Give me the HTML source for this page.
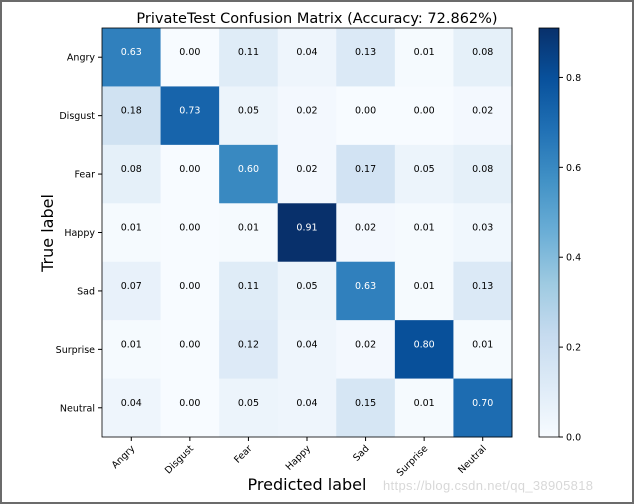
<!DOCTYPE html>
<html><head><meta charset="utf-8"><style>
html,body{margin:0;padding:0;background:#fff;}
svg{display:block;font-family:"DejaVu Sans","Liberation Sans",sans-serif;}
</style></head><body>
<svg id="chart" width="634" height="504" viewBox="0 0 634 504">
<rect x="1" y="1" width="632" height="502" fill="#fff" stroke="#6b6b6b" stroke-width="2"/>
<text x="317" y="23" text-anchor="middle" font-size="14.5" fill="#000">PrivateTest Confusion Matrix (Accuracy: 72.862%)</text>
<g id="cells"></g>
<g id="axes"></g>
<text x="307" y="490" text-anchor="middle" font-size="16" fill="#000">Predicted label</text>
<text transform="translate(53,233) rotate(-90)" text-anchor="middle" font-size="16" fill="#000">True label</text>
<text x="488" y="490" text-anchor="middle" font-size="13" fill="#d8d8d8" font-family="Liberation Sans, sans-serif" textLength="210">https://blog.csdn.net/qq_38905818</text>
<defs><linearGradient id="cbg" x1="0" y1="1" x2="0" y2="0"></linearGradient></defs>
<g id="cbar"></g>
</svg>
<script>
const labels = ["Angry","Disgust","Fear","Happy","Sad","Surprise","Neutral"];
const matrix = [
 [0.63,0.00,0.11,0.04,0.13,0.01,0.08],
 [0.18,0.73,0.05,0.02,0.00,0.00,0.02],
 [0.08,0.00,0.60,0.02,0.17,0.05,0.08],
 [0.01,0.00,0.01,0.91,0.02,0.01,0.03],
 [0.07,0.00,0.11,0.05,0.63,0.01,0.13],
 [0.01,0.00,0.12,0.04,0.02,0.80,0.01],
 [0.04,0.00,0.05,0.04,0.15,0.01,0.70]
];
const cbTicks = [0.0,0.2,0.4,0.6,0.8];
const vmax = 0.91;

const NS="http://www.w3.org/2000/svg";
const X0=102,X1=512,Y0=28,Y1=437;
const n=labels.length, cw=(X1-X0)/n, ch=(Y1-Y0)/n;
const xs=i=>X0+i*cw, ys=i=>Y0+i*ch;
const stops=["#f7fbff","#deebf7","#c6dbef","#9ecae1","#6baed6","#4292c6","#2171b5","#08519c","#08306b"];
function hex(h){return [1,3,5].map(i=>parseInt(h.substr(i,2),16));}
function blues(t){t=Math.max(0,Math.min(1,t));const p=t*8,i=Math.min(7,Math.floor(p)),f=p-i;
 const a=hex(stops[i]),b=hex(stops[i+1]);return "rgb("+a.map((v,k)=>Math.round(v+(b[k]-v)*f)).join(",")+")";}
function mk(tag,attrs,parent){const e=document.createElementNS(NS,tag);for(const k in attrs)e.setAttribute(k,attrs[k]);parent.appendChild(e);return e;}
const cells=document.getElementById('cells');
matrix.forEach((row,r)=>row.forEach((v,c)=>{
 const rect=mk('rect',{x:xs(c),y:ys(r),width:cw+0.5,height:ch+0.5,fill:blues(v/vmax)},cells);
 
 
 const t=mk('text',{x:xs(c)+cw/2,y:ys(r)+ch/2-2,'text-anchor':'middle','font-size':'9.5',fill:v>vmax/2?'#fff':'#000'},cells);
 t.textContent=v.toFixed(2);
 
 
}));
const axes=document.getElementById('axes');
const frame=mk('rect',{x:X0,y:Y0,width:X1-X0,height:Y1-Y0,fill:'none',stroke:'#000','stroke-width':0.8},axes);


labels.forEach((l,i)=>{
 mk('line',{x1:X0-4,x2:X0,y1:ys(i)+ch/2,y2:ys(i)+ch/2,stroke:'#000'},axes);
 const ty=mk('text',{x:X0-7,y:ys(i)+ch/2+3.5,'text-anchor':'end','font-size':'9.5'},axes);
 ty.textContent=l;
 
 
 const cx=xs(i)+cw/2;
 mk('line',{x1:cx,x2:cx,y1:Y1,y2:Y1+4,stroke:'#000'},axes);
 const tx=mk('text',{transform:'translate('+(cx+4)+','+(Y1+12)+') rotate(-45)','text-anchor':'end','font-size':'9.5'},axes);
 tx.textContent=l;
 
 
});
const g=document.getElementById('cbg');
stops.forEach((s,i)=>mk('stop',{offset:(i/8),'stop-color':s},g));
const cb=document.getElementById('cbar');
const CX0=539,CX1=559;
const cbr=mk('rect',{x:CX0,y:Y0,width:CX1-CX0,height:Y1-Y0,fill:'url(#cbg)',stroke:'#000','stroke-width':0.8},cb);


cbTicks.forEach(v=>{
 const y=Y1-(v/vmax)*(Y1-Y0);
 mk('line',{x1:CX1,x2:CX1+4,y1:y,y2:y,stroke:'#000'},cb);
 const t=mk('text',{x:CX1+7,y:y+3.5,'font-size':'9.5'},cb);
 t.textContent=v.toFixed(1);
 
 
});
</script>
</body></html>
